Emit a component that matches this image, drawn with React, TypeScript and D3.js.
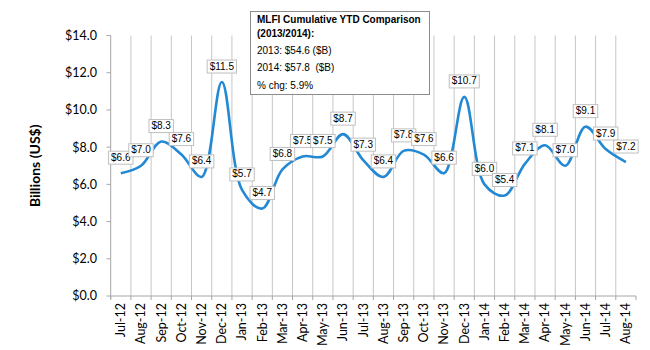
import React, { useEffect, useRef } from "react";
import * as d3 from "d3";

// monthly values, billions of US$
const months: string[] = [
  "Jul-12", "Aug-12", "Sep-12", "Oct-12", "Nov-12", "Dec-12",
  "Jan-13", "Feb-13", "Mar-13", "Apr-13", "May-13", "Jun-13",
  "Jul-13", "Aug-13", "Sep-13", "Oct-13", "Nov-13", "Dec-13",
  "Jan-14", "Feb-14", "Mar-14", "Apr-14", "May-14", "Jun-14",
  "Jul-14", "Aug-14",
];

const values: number[] = [
  6.6, 7.0, 8.3, 7.6, 6.4, 11.5,
  5.7, 4.7, 6.8, 7.5, 7.5, 8.7,
  7.3, 6.4, 7.8, 7.6, 6.6, 10.7,
  6.0, 5.4, 7.1, 8.1, 7.0, 9.1,
  7.9, 7.2,
];

const yTicks: number[] = [0, 2, 4, 6, 8, 10, 12, 14];

const noteLines: string[] = [
  "2013: $54.6 ($B)",
  "2014: $57.8  ($B)",
  "% chg: 5.9%",
];

const WIDTH = 650;
const HEIGHT = 350;
const axisFont = "Lato, 'Open Sans', sans-serif";
const labelFont = "'Liberation Sans', Arial, sans-serif";

const App: React.FC = () => {
  const svgRef = useRef<SVGSVGElement | null>(null);

  useEffect(() => {
    const svg = d3.select(svgRef.current);
    svg.selectAll("*").remove();

    const x = d3.scaleBand<string>().domain(months).range([110.7, 636]).padding(0);
    const y = d3.scaleLinear().domain([0, 14]).range([296, 35.5]);
    const cx = (m: string) => (x(m) as number) + x.bandwidth() / 2;

    // vertical gridlines at category boundaries
    svg
      .append("g")
      .selectAll("line")
      .data(months.slice(1))
      .enter()
      .append("line")
      .attr("x1", (d) => x(d) as number)
      .attr("x2", (d) => x(d) as number)
      .attr("y1", y(14))
      .attr("y2", y(0))
      .attr("stroke", "#c6c6c6")
      .attr("stroke-width", 1);

    // y axis
    const yAxis = svg.append("g");
    yAxis
      .append("line")
      .attr("x1", 110.7)
      .attr("x2", 110.7)
      .attr("y1", y(14))
      .attr("y2", y(0) + 3)
      .attr("stroke", "#a6a6a6");
    yAxis
      .selectAll("line.tick")
      .data(yTicks)
      .enter()
      .append("line")
      .attr("class", "tick")
      .attr("x1", 106.5)
      .attr("x2", 110.7)
      .attr("y1", (d) => y(d))
      .attr("y2", (d) => y(d))
      .attr("stroke", "#a6a6a6");
    yAxis
      .selectAll("text")
      .data(yTicks)
      .enter()
      .append("text")
      .attr("x", 97)
      .attr("y", (d) => y(d))
      .attr("dy", "0.35em")
      .attr("text-anchor", "end")
      .style("font-family", axisFont)
      .style("font-size", "12.5px")
      .attr("fill", "#000")
      .text((d) => `$${d.toFixed(1)}`);

    svg
      .append("text")
      .attr("transform", `translate(40, ${y(7)}) rotate(-90)`)
      .attr("text-anchor", "middle")
      .style("font-family", axisFont)
      .style("font-size", "14px")
      .style("font-weight", "bold")
      .text("Billions (US$)");

    // x axis
    const xAxis = svg.append("g");
    xAxis
      .append("line")
      .attr("x1", 110.7)
      .attr("x2", 636)
      .attr("y1", y(0))
      .attr("y2", y(0))
      .attr("stroke", "#a6a6a6");
    xAxis
      .selectAll("line.tick")
      .data([...months.map((m) => x(m) as number), 636])
      .enter()
      .append("line")
      .attr("class", "tick")
      .attr("x1", (d) => d)
      .attr("x2", (d) => d)
      .attr("y1", y(0))
      .attr("y2", y(0) + 4)
      .attr("stroke", "#a6a6a6");
    xAxis
      .selectAll("text")
      .data(months)
      .enter()
      .append("text")
      .attr("transform", (d) => `translate(${cx(d)}, 303) rotate(-90)`)
      .attr("dy", "0.35em")
      .attr("text-anchor", "end")
      .style("font-family", axisFont)
      .style("font-size", "12.5px")
      .text((d) => d);

    // smoothed line
    const line = d3
      .line<number>()
      .x((_, i) => cx(months[i]))
      .y((d) => y(d))
      .curve(d3.curveCatmullRom.alpha(0.5));

    svg
      .append("path")
      .datum(values)
      .attr("d", line)
      .attr("fill", "none")
      .attr("stroke", "#2389d4")
      .attr("stroke-width", 2.6);

    // data labels, drawn in order so later boxes cover earlier ones
    values.forEach((v, i) => {
      const px = cx(months[i]);
      const py = y(v);
      const g = svg.append("g");
      const rect = g.append("rect");
      const t = g
        .append("text")
        .attr("x", px)
        .attr("y", py - 12.5)
        .attr("text-anchor", "middle")
        .style("font-family", labelFont)
        .style("font-size", "10px")
        .attr("fill", "#000")
        .text(`$${v.toFixed(1)}`);
      const w = (t.node() as SVGTextElement).getComputedTextLength() + 5;
      rect
        .attr("x", px - w / 2)
        .attr("y", py - 22)
        .attr("width", w)
        .attr("height", 13)
        .attr("fill", "#fff")
        .attr("stroke", "#bfbfbf")
        .attr("stroke-width", 1);
    });

    // note box
    const note = svg.append("g");
    note
      .append("rect")
      .attr("x", 250.5)
      .attr("y", 11.5)
      .attr("width", 179)
      .attr("height", 83)
      .attr("fill", "#fff")
      .attr("stroke", "#8c8c8c");
    note
      .append("text")
      .attr("x", 257)
      .attr("y", 23)
      .style("font-family", labelFont)
      .style("font-size", "10px")
      .style("font-weight", "bold")
      .text("MLFI Cumulative YTD Comparison");
    note
      .append("text")
      .attr("x", 257)
      .attr("y", 37)
      .style("font-family", labelFont)
      .style("font-size", "10px")
      .style("font-weight", "bold")
      .text("(2013/2014):");
    note
      .selectAll("text.line")
      .data(noteLines)
      .enter()
      .append("text")
      .attr("class", "line")
      .attr("x", 257)
      .attr("y", (_, i) => 54 + i * 17.3)
      .style("font-family", labelFont)
      .style("font-size", "10px")
      .attr("xml:space", "preserve")
      .style("white-space", "pre")
      .text((d) => d);
  }, []);

  return (
    <svg
      ref={svgRef}
      width={WIDTH}
      height={HEIGHT}
      style={{ position: "absolute", left: 0, top: 0, background: "#fff" }}
    ></svg>
  );
};

export default App;
